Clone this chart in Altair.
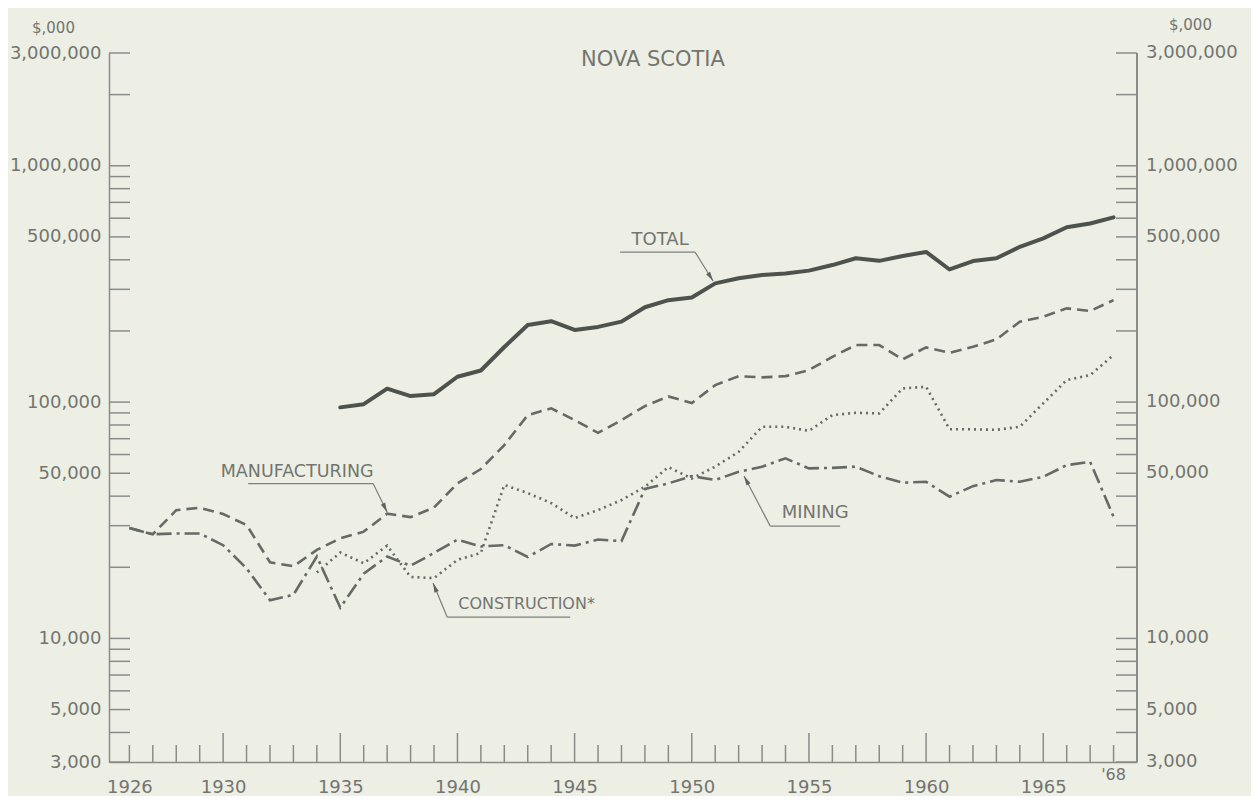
import altair as alt
import pandas as pd

# ---------------- data ----------------
years = list(range(1926, 1969))
total_years = list(range(1935, 1969))
total = [95000, 98000, 114000, 106000, 108000, 128000, 136000, 171000, 212000, 220000,
         202000, 208000, 219000, 252000, 270000, 277000, 318000, 334000, 345000, 350000,
         360000, 380000, 406000, 396000, 415000, 432000, 364000, 395000, 406000, 454000,
         493000, 549000, 570000, 605000]
manufacturing = [29300, 27600, 34900, 35700, 33600, 30200, 21000, 20200, 23700, 26500,
                 28300, 33700, 32600, 35800, 45300, 52100, 65800, 88100, 94100, 83900,
                 74100, 83900, 96200, 105700, 99100, 118000, 128800, 127200, 128800, 136600,
                 155500, 174300, 174300, 151700, 170400, 161700, 171400, 184200, 218800, 229600,
                 249300, 242800, 270200]
mining = [29300, 27600, 27800, 27800, 24800, 19800, 14500, 15300, 22200, 13500,
          18800, 22200, 20300, 23000, 26200, 24500, 24800, 22100, 25100, 24700,
          26200, 25800, 42900, 45300, 48600, 46800, 50700, 53300, 57800, 52400,
          52700, 53300, 48600, 45600, 46000, 39800, 44100, 46800, 46000, 48300,
          54100, 55900, 32700]
construction_years = list(range(1934, 1969))
construction = [19000, 23100, 20800, 24700, 18200, 18000, 21500, 23000, 44600, 41200,
                37400, 32300, 34900, 38500, 43800, 53100, 47500, 53300, 61600, 78600,
                78600, 75600, 88100, 90100, 89600, 114300, 116100, 76700, 76700, 76300,
                78600, 98800, 124000, 130100, 158100]

y_label_values = [3000, 5000, 10000, 50000, 100000, 500000, 1000000, 3000000]
y_tick_values = [m * 10 ** e for e in range(3, 7) for m in range(1, 10)
                 if 3000 <= m * 10 ** e <= 3000000]
x_label_values = [1926, 1930, 1935, 1940, 1945, 1950, 1955, 1960, 1965]
x_tick_years = list(range(1926, 1969))

ann_labels = ["TOTAL", "MANUFACTURING", "CONSTRUCTION*", "MINING"]
ann_x = [1948.65, 1933.16, 1942.95, 1955.27]
ann_y = [484900, 50560, 13970, 33810]
ann_size = [18, 17.5, 16, 18]

seg_x1 = [1946.94, 1950.14, 1931.07, 1936.40, 1939.56, 1939.56, 1953.35, 1953.35]
seg_x2 = [1950.14, 1950.91, 1936.40, 1937.00, 1944.81, 1938.96, 1956.33, 1952.23]
seg_y1 = [431200, 431200, 45200, 45200, 12310, 12310, 29870, 29870]
seg_y2 = [431200, 325200, 45200, 34230, 12310, 17150, 29870, 48630]

arrow_x = [1950.91, 1937.00, 1938.96, 1952.23]
arrow_y = [325200, 34230, 17150, 48630]
arrow_angle = [148, 154, 338, 332]

# ---------------- layout / style ----------------
W, H = 1028, 709
FONT = "DejaVu Sans"
TXT = "#737570"
AX = "#8a8c88"
LINE_DARK = "#4d524c"
LINE = "#666a65"

xs = alt.Scale(domain=[1925.13, 1969.0], nice=False, zero=False)
ys = alt.Scale(type="log", domain=[3000, 3000000], nice=False)

x_axis = alt.Axis(values=x_label_values, format="d", title=None, ticks=False, tickSize=0,
                  grid=False, domainColor=AX, domainWidth=1.5, labelFont=FONT,
                  labelFontSize=18, labelColor=TXT, labelPadding=16, labelFlush=False,
                  labelOverlap=False)
y_axis = alt.Axis(values=y_label_values, format=",d", title=None, ticks=False, tickSize=0,
                  grid=False, domainColor=AX, domainWidth=1.5, labelFont=FONT,
                  labelFontSize=18, labelColor=TXT, labelPadding=8, labelFlush=False,
                  labelOverlap=False)


def X(field):
    return alt.X(field, type="quantitative", scale=xs, axis=x_axis)


def Y(field):
    return alt.Y(field, type="quantitative", scale=ys, axis=y_axis)


df_total = pd.DataFrame({"year": total_years, "value": total})
df_manu = pd.DataFrame({"year": years, "value": manufacturing})
df_mine = pd.DataFrame({"year": years, "value": mining})
df_cons = pd.DataFrame({"year": construction_years, "value": construction})

l_total = alt.Chart(df_total).mark_line(color=LINE_DARK, strokeWidth=4, strokeJoin="round",
                                        strokeCap="round").encode(x=X("year"), y=Y("value"))
l_manu = alt.Chart(df_manu).mark_line(color=LINE, strokeWidth=2.6, strokeDash=[11, 6]).encode(
    x=X("year"), y=Y("value"))
l_mine = alt.Chart(df_mine).mark_line(color=LINE, strokeWidth=2.6,
                                      strokeDash=[15, 5, 3, 5]).encode(x=X("year"), y=Y("value"))
l_cons = alt.Chart(df_cons).mark_line(color=LINE, strokeWidth=2.6, strokeDash=[2, 4]).encode(
    x=X("year"), y=Y("value"))

# ticks (drawn inward, as on the original)
df_yt = pd.DataFrame({"value": y_tick_values})
yt_left = alt.Chart(df_yt).mark_rule(color=AX, strokeWidth=1.5).encode(
    y=Y("value"), x=alt.value(0), x2=alt.value(21))
yt_right = alt.Chart(df_yt).mark_rule(color=AX, strokeWidth=1.5).encode(
    y=Y("value"), x=alt.value(W - 21), x2=alt.value(W))
right_domain = alt.Chart(df_yt).mark_rule(color=AX, strokeWidth=1.5).encode(
    x=alt.value(W), y=alt.value(0), y2=alt.value(H))

df_xt = pd.DataFrame({"year": x_tick_years,
                      "major": [y % 5 == 0 for y in x_tick_years]})
xt_minor = alt.Chart(df_xt).transform_filter("!datum.major").mark_rule(
    color=AX, strokeWidth=1.5).encode(x=X("year"), y=alt.value(H), y2=alt.value(H - 17))
xt_major = alt.Chart(df_xt).transform_filter("datum.major").mark_rule(
    color=AX, strokeWidth=1.5).encode(x=X("year"), y=alt.value(H), y2=alt.value(H - 29))

# right-hand labels
df_yl = pd.DataFrame({"value": y_label_values})
r_labels = alt.Chart(df_yl).mark_text(align="left", baseline="middle", font=FONT,
                                      fontSize=18, color=TXT).encode(
    y=Y("value"), x=alt.value(W + 9), text=alt.Text("value:Q", format=",d"))

# '68 label
df_68 = pd.DataFrame({"year": [1968], "label": ["'68"]})
l68 = alt.Chart(df_68).mark_text(align="center", baseline="middle", font=FONT, fontSize=16,
                                 color=TXT).encode(x=X("year"), y=alt.value(H + 13),
                                                   text="label:N")

# annotations
df_ann = pd.DataFrame({"x": ann_x, "y": ann_y, "label": ann_labels, "fs": ann_size})
ann_text = alt.Chart(df_ann).mark_text(align="center", baseline="middle", font=FONT,
                                       color=TXT).encode(
    x=X("x"), y=Y("y"), text="label:N", size=alt.Size("fs:Q", scale=None, legend=None))
df_seg = pd.DataFrame({"x1": seg_x1, "x2": seg_x2, "y1": seg_y1, "y2": seg_y2})
ann_seg = alt.Chart(df_seg).mark_rule(color="#7d807b", strokeWidth=1.2).encode(
    x=X("x1"), x2="x2", y=Y("y1"), y2="y2")
df_arr = pd.DataFrame({"x": arrow_x, "y": arrow_y, "angle": arrow_angle})
ann_arr = alt.Chart(df_arr).mark_point(shape="M0,0L0.45,1.8L-0.45,1.8Z", filled=True,
                                       size=110, color="#5f625e", opacity=1).encode(
    x=X("x"), y=Y("y"), angle=alt.Angle("angle:Q", scale=None))

# title and unit labels
df_title = pd.DataFrame({"t": ["NOVA SCOTIA"]})
title = alt.Chart(df_title).mark_text(align="center", baseline="middle", font=FONT,
                                      fontSize=21, color=TXT).encode(
    x=alt.value(544), y=alt.value(7), text="t:N")
df_unit = pd.DataFrame({"t": ["$,000"]})
unit_l = alt.Chart(df_unit).mark_text(align="left", baseline="middle", font=FONT,
                                      fontSize=15, color=TXT).encode(
    x=alt.value(-77), y=alt.value(-25), text="t:N")
unit_r = alt.Chart(df_unit).mark_text(align="left", baseline="middle", font=FONT,
                                      fontSize=15, color=TXT).encode(
    x=alt.value(1060), y=alt.value(-28), text="t:N")

chart = alt.layer(
    xt_minor, xt_major, yt_left, yt_right, right_domain,
    l_cons, l_mine, l_manu, l_total,
    ann_seg, ann_arr, ann_text, r_labels, l68, title, unit_l, unit_r,
).properties(
    width=W, height=H,
    padding={"left": 101, "top": 45, "right": 114, "bottom": 34},
    autosize=alt.AutoSizeParams(type="none"),
).configure(background="#edefe5").configure_view(stroke=None)

chart.save("out.html", embed_options={"renderer": "svg", "actions": False})
